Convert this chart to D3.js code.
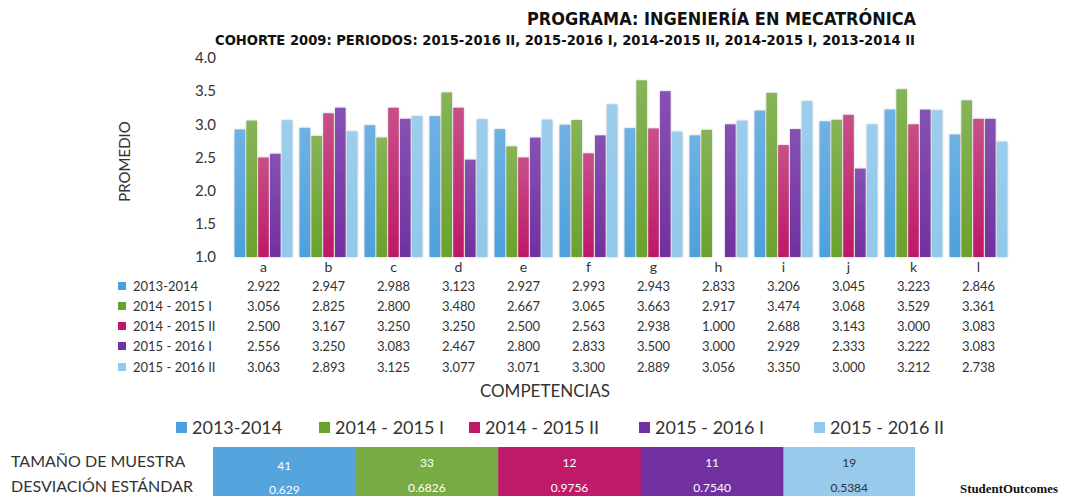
<!DOCTYPE html>
<html>
<head>
<meta charset="utf-8">
<script src="https://cdn.jsdelivr.net/npm/d3@7"></script>
<style>
  body { margin: 0; background: #fff; }
  svg text { fill: #333; }
</style>
</head>
<body>
<div id="chart"></div>
<script>
// data
const categories = ['a', 'b', 'c', 'd', 'e', 'f', 'g', 'h', 'i', 'j', 'k', 'l'];
const seriesNames = ['2013-2014', '2014 - 2015 I', '2014 - 2015 II', '2015 - 2016 I', '2015 - 2016 II'];
const v2013 = [2.922, 2.947, 2.988, 3.123, 2.927, 2.993, 2.943, 2.833, 3.206, 3.045, 3.223, 2.846];
const v2014I = [3.056, 2.825, 2.800, 3.480, 2.667, 3.065, 3.663, 2.917, 3.474, 3.068, 3.529, 3.361];
const v2014II = [2.500, 3.167, 3.250, 3.250, 2.500, 2.563, 2.938, 1.000, 2.688, 3.143, 3.000, 3.083];
const v2015I = [2.556, 3.250, 3.083, 2.467, 2.800, 2.833, 3.500, 3.000, 2.929, 2.333, 3.222, 3.083];
const v2015II = [3.063, 2.893, 3.125, 3.077, 3.071, 3.300, 2.889, 3.056, 3.350, 3.000, 3.212, 2.738];
const sampleSize = ['41', '33', '12', '11', '19'];
const stdDev = ['0.629', '0.6826', '0.9756', '0.7540', '0.5384'];
const yTicks = [1.0, 1.5, 2.0, 2.5, 3.0, 3.5, 4.0];

const allValues = [v2013, v2014I, v2014II, v2015I, v2015II];
const colors = ['#4da0dc', '#6aa22c', '#bf1868', '#7130a0', '#92c8ea'];
const tops = ['#6fb2e4', '#86b457', '#c85088', '#8652b2', '#9ccdec'];
const boxColors = ['#55a4de', '#79ab45', '#c01a6b', '#7131a1', '#97caeb'];

const W = 1068, H = 496;
const svg = d3.select('#chart').append('svg').attr('width', W).attr('height', H);

const defs = svg.append('defs');
colors.forEach((c, i) => {
    const g = defs.append('linearGradient').attr('id', 'grad' + i)
        .attr('x1', 0).attr('y1', 0).attr('x2', 0).attr('y2', 1);
    g.append('stop').attr('offset', '0%').attr('stop-color', tops[i]);
    g.append('stop').attr('offset', '100%').attr('stop-color', c);
});
const filt = defs.append('filter').attr('id', 'shadow')
    .attr('x', '-30%').attr('y', '-10%').attr('width', '160%').attr('height', '120%');
filt.append('feDropShadow').attr('dx', 0).attr('dy', 0).attr('stdDeviation', 1)
    .attr('flood-color', '#888').attr('flood-opacity', 0.5);

const condensed = '"Liberation Sans Narrow", "DejaVu Sans Condensed", Arial, sans-serif';
const bodyFont = 'Lato, "Open Sans", sans-serif';

// titles
svg.append('text').attr('x', 527).attr('y', 25)
    .attr('textLength', 389).attr('lengthAdjust', 'spacingAndGlyphs')
    .style('font-family', condensed).style('font-weight', 'bold').style('font-size', '17px')
    .style('fill', '#111')
    .text('PROGRAMA: INGENIERÍA EN MECATRÓNICA');
svg.append('text').attr('x', 215).attr('y', 45)
    .attr('textLength', 700).attr('lengthAdjust', 'spacingAndGlyphs')
    .style('font-family', condensed).style('font-weight', 'bold').style('font-size', '13.5px')
    .style('fill', '#111')
    .text('COHORTE 2009:  PERIODOS: 2015-2016 II, 2015-2016 I, 2014-2015 II, 2014-2015 I, 2013-2014 II');

// scales
const plotL = 231, plotR = 1011, plotT = 58, plotB = 257;
const x0 = d3.scaleBand().domain(categories).range([plotL, plotR]).paddingInner(0.11).paddingOuter(0.055);
const x1 = d3.scaleBand().domain(d3.range(5)).range([0, x0.bandwidth()]).paddingInner(0.1);
const y = d3.scaleLinear().domain([1, 4]).range([plotB, plotT]);

const yAxis = svg.append('g').attr('transform', `translate(${plotL},0)`)
    .call(d3.axisLeft(y).tickValues(yTicks).tickFormat(d3.format('.1f')).tickSize(0).tickPadding(15));
yAxis.select('.domain').remove();
yAxis.selectAll('text').style('font-family', bodyFont).style('font-size', '15px').style('fill', '#333');

svg.append('text')
    .attr('transform', `translate(130,${(plotT + plotB) / 2 + 4}) rotate(-90)`)
    .attr('text-anchor', 'middle')
    .style('font-family', bodyFont).style('font-size', '15px')
    .text('PROMEDIO');

// bars
const groups = svg.append('g').selectAll('g').data(categories).join('g')
    .attr('transform', d => `translate(${x0(d)},0)`);
groups.selectAll('rect')
    .data((d, ci) => allValues.map((vals, si) => ({ si, v: vals[ci] })))
    .join('rect')
    .filter(d => d.v > 1)
    .attr('x', d => x1(d.si))
    .attr('width', x1.bandwidth())
    .attr('y', d => y(d.v))
    .attr('height', d => y(1) - y(d.v))
    .attr('fill', d => `url(#grad${d.si})`)
    .attr('filter', 'url(#shadow)');

// category labels
svg.append('g').selectAll('text').data(categories).join('text')
    .attr('x', d => x0(d) + x0.bandwidth() / 2).attr('y', 272)
    .attr('text-anchor', 'middle')
    .style('font-family', bodyFont).style('font-size', '14px')
    .text(d => d);

// data table
const rowY = [291, 311, 331, 351, 372];
seriesNames.forEach((name, si) => {
    svg.append('rect').attr('x', 118).attr('y', rowY[si] - 9).attr('width', 8).attr('height', 8)
        .attr('fill', colors[si]);
    svg.append('text').attr('x', 133).attr('y', rowY[si])
        .style('font-family', bodyFont).style('font-size', '13px')
        .text(name);
    svg.append('g').selectAll('text').data(allValues[si]).join('text')
        .attr('x', (d, ci) => x0(categories[ci]) + x0.bandwidth() / 2)
        .attr('y', rowY[si])
        .attr('text-anchor', 'middle')
        .style('font-family', bodyFont).style('font-size', '13px')
        .text(d => d3.format('.3f')(d));
});

svg.append('text').attr('x', 545).attr('y', 397).attr('text-anchor', 'middle')
    .style('font-family', bodyFont).style('font-size', '17px')
    .text('COMPETENCIAS');

// legend
const legendX = [176, 319, 469, 639, 814];
seriesNames.forEach((name, si) => {
    svg.append('rect').attr('x', legendX[si]).attr('y', 422).attr('width', 11).attr('height', 11)
        .attr('fill', colors[si]);
    svg.append('text').attr('x', legendX[si] + 16).attr('y', 434)
        .style('font-family', bodyFont).style('font-size', '18px')
        .text(name);
});

// bottom table
const boxX = d3.scaleBand().domain(d3.range(5)).range([213, 926]);
svg.append('g').selectAll('rect').data(boxColors).join('rect')
    .attr('x', (d, i) => boxX(i)).attr('y', 447)
    .attr('width', (d, i) => i === 4 ? boxX.bandwidth() - 11 : boxX.bandwidth() + 0.5)
    .attr('height', 60)
    .attr('fill', d => d);
svg.append('g').selectAll('text').data(sampleSize).join('text')
    .attr('x', (d, i) => boxX(i) + (i === 4 ? (boxX.bandwidth() - 11) / 2 : boxX.bandwidth() / 2))
    .attr('y', (d, i) => i === 0 ? 470 : 467)
    .attr('text-anchor', 'middle')
    .style('font-family', bodyFont).style('font-size', '12px')
    .style('fill', (d, i) => i === 4 ? '#333' : '#fff')
    .text(d => d);
svg.append('g').selectAll('text').data(stdDev).join('text')
    .attr('x', (d, i) => boxX(i) + (i === 4 ? (boxX.bandwidth() - 11) / 2 : boxX.bandwidth() / 2))
    .attr('y', (d, i) => i === 0 ? 494 : 492)
    .attr('text-anchor', 'middle')
    .style('font-family', bodyFont).style('font-size', '12px')
    .style('fill', (d, i) => i === 4 ? '#333' : '#fff')
    .text(d => d);

svg.append('text').attr('x', 11).attr('y', 467)
    .style('font-family', bodyFont).style('font-size', '16px')
    .text('TAMAÑO DE MUESTRA');
svg.append('text').attr('x', 11).attr('y', 492)
    .style('font-family', bodyFont).style('font-size', '16px')
    .text('DESVIACIÓN ESTÁNDAR');

svg.append('text').attr('x', 960).attr('y', 493)
    .attr('textLength', 98).attr('lengthAdjust', 'spacingAndGlyphs')
    .style('font-family', '"Liberation Serif", serif').style('font-weight', 'bold')
    .style('font-size', '13px').style('fill', '#111')
    .text('StudentOutcomes');
</script>
</body>
</html>
